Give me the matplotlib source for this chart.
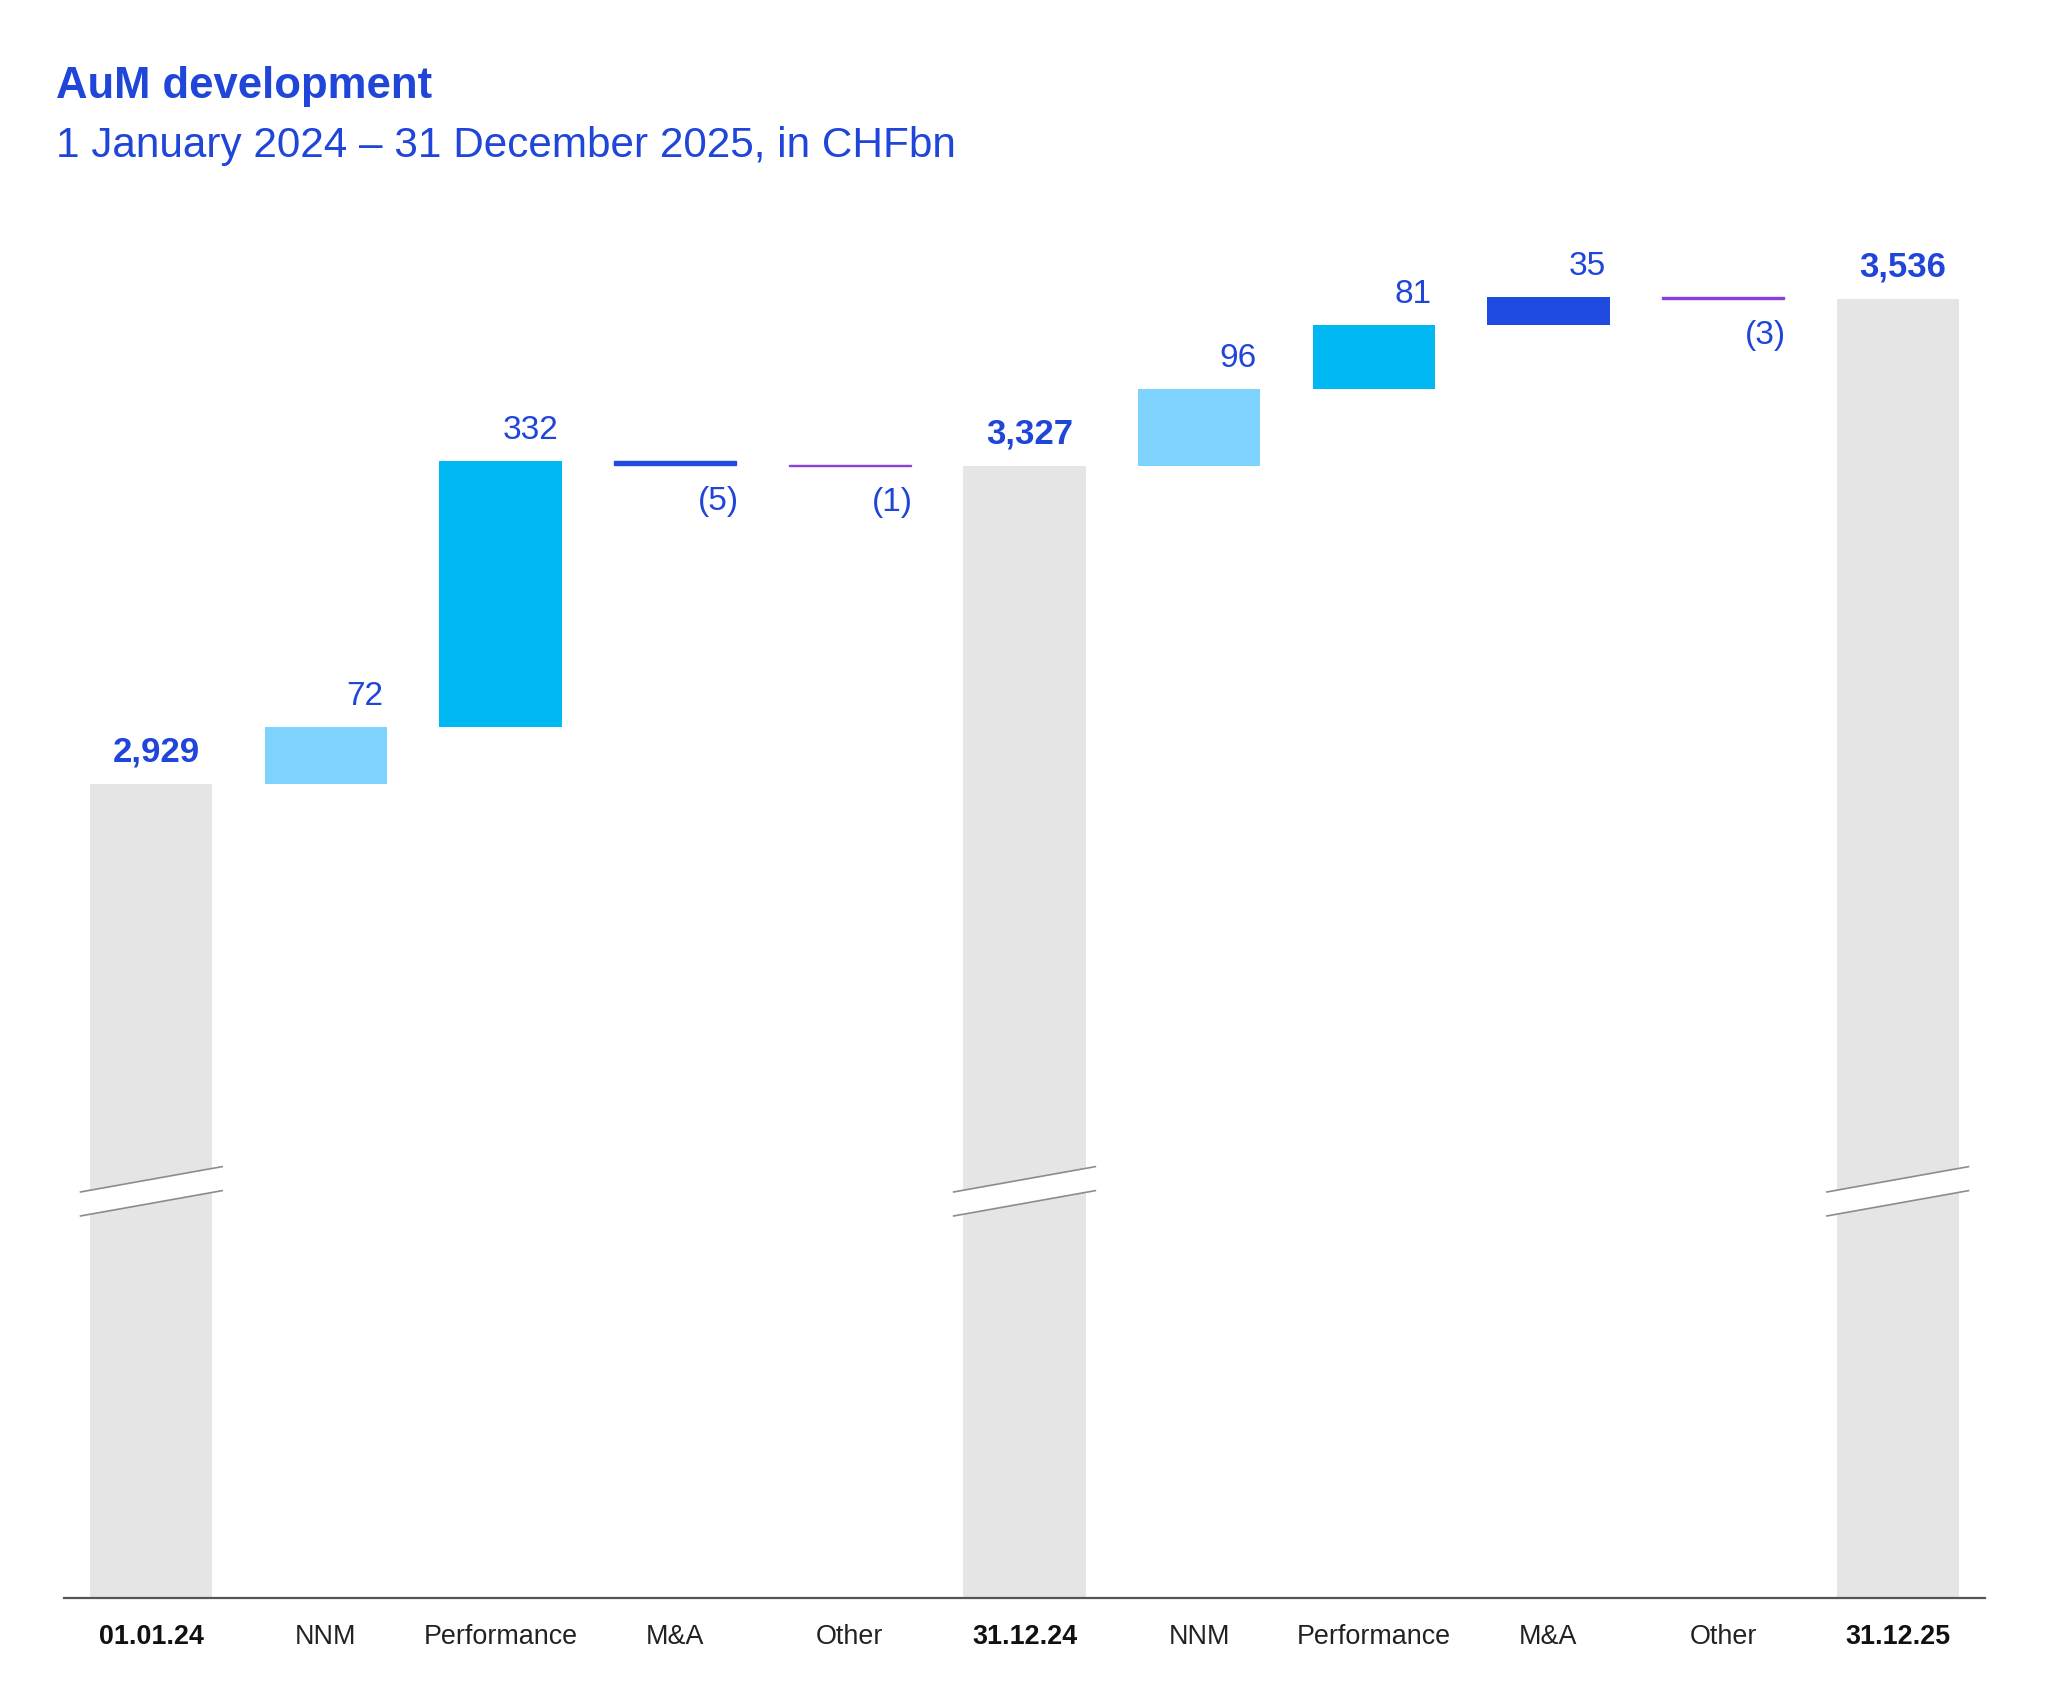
import matplotlib
matplotlib.use("Agg")
import matplotlib.pyplot as plt
from matplotlib.patches import Polygon

plt.rcParams['font.family'] = ['Liberation Sans', 'DejaVu Sans']

# ---- data ----
categories = ["01.01.24", "NNM", "Performance", "M&A", "Other",
              "31.12.24", "NNM", "Performance", "M&A", "Other", "31.12.25"]
kinds = ["total", "nnm", "perf", "ma", "other",
         "total", "nnm", "perf", "ma", "other", "total"]
values = [2929, 72, 332, -5, -1, 3327, 96, 81, 35, -3, 3536]
labels = ["2,929", "72", "332", "(5)", "(1)", "3,327",
          "96", "81", "35", "(3)", "3,536"]

title = "AuM development"
subtitle = "1 January 2024 \u2013 31 December 2025, in CHFbn"

# ---- styles ----
colors = {"total": "#E5E5E5", "nnm": "#7DD3FD", "perf": "#00B9F2",
          "ma": "#1F4BE0", "other": "#8B3FDC"}
label_blue = "#1F45D9"
ymin, ymax = 1911.4, 3659.7
break_level = 2420
bar_w = 0.70

fig = plt.figure(figsize=(10.24, 8.52), dpi=200)
ax = fig.add_axes([64/2048, 106/1704, (1985-64)/2048, 1398/1704])
ax.set_xlim(-0.5, len(categories) - 0.5)
ax.set_ylim(ymin, ymax)

running = 0
for i, (k, v, lab) in enumerate(zip(kinds, values, labels)):
    if k == "total":
        ax.bar(i, v - ymin, bottom=ymin, width=bar_w, color=colors[k], zorder=2)
        running = v
        ax.annotate(lab, (i, v), xytext=(1.8, 8.2), textcoords="offset points",
                    ha="center", va="baseline", fontsize=12.5, fontweight="bold",
                    color=label_blue)
        # break marks
        hw = 0.41
        rise = 16
        gap = 15
        top_line = [(i - hw, break_level + gap - rise), (i + hw, break_level + gap + rise)]
        bot_line = [(i - hw, break_level - gap - rise), (i + hw, break_level - gap + rise)]
        poly = Polygon(top_line + bot_line[::-1], closed=True, facecolor="white",
                       edgecolor="none", zorder=3)
        ax.add_patch(poly)
        for ln in (top_line, bot_line):
            ax.plot([p[0] for p in ln], [p[1] for p in ln], color="#8C8C8C",
                    lw=0.6, zorder=4, solid_capstyle="butt")
    else:
        hi = running + v
        ax.bar(i, v, bottom=running, width=bar_w, color=colors[k],
               edgecolor=colors[k], linewidth=0.5 if abs(v) < 10 else 0, zorder=2)
        right = i + bar_w / 2
        if v >= 0:
            ax.annotate(lab, (right, hi), xytext=(-1.3, 7.9), textcoords="offset points",
                        ha="right", va="baseline", fontsize=12, color=label_blue)
        else:
            ax.annotate(lab, (right, hi), xytext=(0.8, -7.6), textcoords="offset points",
                        ha="right", va="top", fontsize=12, color=label_blue)
        running = hi

for s in ["top", "right", "left"]:
    ax.spines[s].set_visible(False)
ax.spines["bottom"].set_color("#555555")
ax.spines["bottom"].set_linewidth(0.8)
ax.spines["bottom"].set_zorder(5)
ax.set_yticks([])
ax.set_xticks(range(len(categories)))
ax.set_xticklabels(categories, fontsize=9.7, color="#222222")
for t, k in zip(ax.get_xticklabels(), kinds):
    if k == "total":
        t.set_fontweight("bold")
        t.set_color("#111111")
ax.tick_params(axis="x", length=0, pad=9.2)

fig.text(56/2048, 1 - 98/1704, title, fontsize=15.7, fontweight="bold",
         color=label_blue, va="baseline", ha="left")
fig.text(56/2048, 1 - 157/1704, subtitle, fontsize=15.2, color=label_blue,
         va="baseline", ha="left")

fig.savefig("out.png", dpi=200, facecolor="white")
